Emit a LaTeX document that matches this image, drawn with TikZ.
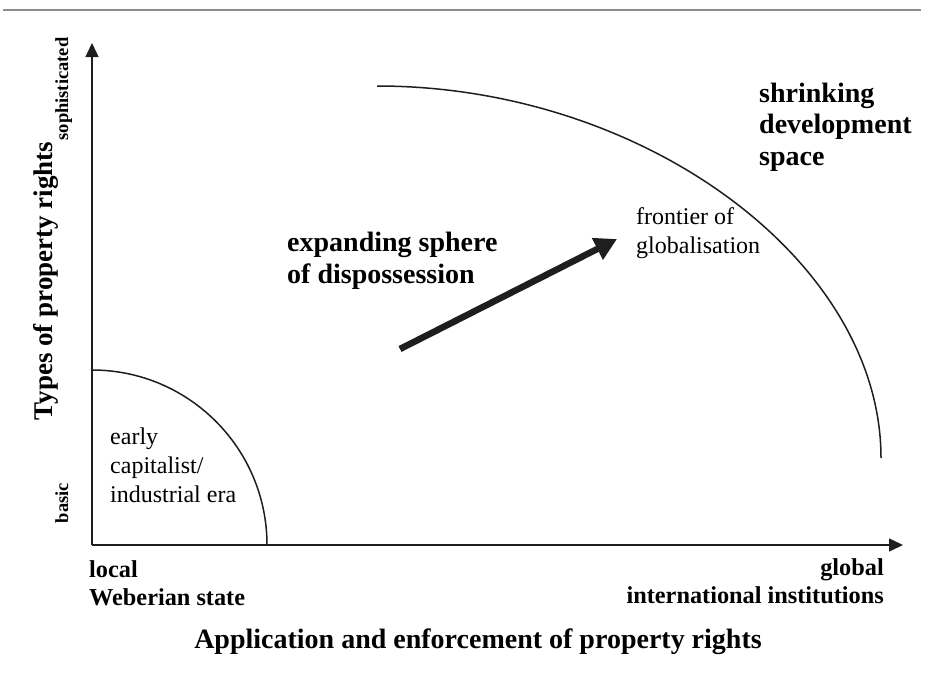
\documentclass[tikz,border=0pt]{standalone}
\usepackage{fontspec}
\setmainfont{Liberation Serif}
\usetikzlibrary{arrows.meta, positioning}

\definecolor{lineblack}{HTML}{1E1E1E}
\definecolor{rulegray}{HTML}{8C8C8C}

\tikzset{
  axisline/.style={line width=1.5pt, draw=lineblack, -{Triangle[length=14pt, width=13pt]}},
  boundary/.style={line width=1.5pt, draw=lineblack},
  bigbold/.style={font=\bfseries\fontsize{28}{31.5}\selectfont, align=left, inner sep=0pt},
  plaintext/.style={font=\fontsize{24}{29}\selectfont, align=left, inner sep=0pt},
  endlabel/.style={font=\bfseries\fontsize{24.3}{28}\selectfont, inner sep=0pt},
  axistitle/.style={font=\bfseries\fontsize{28}{32}\selectfont, inner sep=0pt},
  tickword/.style={font=\bfseries\fontsize{18.5}{22}\selectfont, inner sep=0pt, rotate=90, anchor=base}
}

\begin{document}
\begin{tikzpicture}[x=1pt, y=-1pt]
  \useasboundingbox (0,0) rectangle (936,683);

  % rule above the figure
  \draw[rulegray, line width=2pt] (3,10) -- (921,10);

  % axes
  \coordinate (origin) at (92,545);
  \coordinate (ytip) at (92,43);
  \coordinate (xtip) at (903,545);
  \draw[axisline] (origin) -- (ytip);
  \draw[axisline] (origin) -- (xtip);

  % inner and outer boundaries
  \draw[boundary] (92,370) arc[start angle=-90, end angle=0, radius=175];
  \coordinate (outerstart) at (377,86);
  \coordinate (outerend) at (881,458);
  \draw[boundary] (outerstart) .. controls (644,86) and (881,261) .. (outerend);

  % growth arrow
  \coordinate (dtail) at (400,349);
  \coordinate (dhead) at (617,239);
  \draw[line width=6.5pt, draw=lineblack, -{Triangle[length=22pt, width=23pt]}] (dtail) -- (dhead);

  % texts (base anchor sits on the last line)
  \node[bigbold, anchor=base west] (shrinkspace) at (759,165) {shrinking\\development\\space};
  \node[bigbold, anchor=base west] (expsphere) at (287,283) {expanding sphere\\of dispossession};
  \node[plaintext, anchor=base west] (frontier) at (636,253) {frontier of\\globalisation};
  \node[plaintext, anchor=base west] (earlyera) at (110,502) {early\\capitalist/\\industrial era};

  \node[endlabel, align=left, anchor=base west] (localstate) at (89,605) {local\\Weberian state};
  \node[endlabel, align=right, anchor=base east] (globalinst) at (884,603) {global\\international institutions};
  \node[axistitle, anchor=base] (xlabel) at (478,648) {Application and enforcement of property rights};

  \node[axistitle, font=\bfseries\fontsize{27}{30}\selectfont, rotate=90, anchor=base] (ylabel) at (52,281) {Types of property rights};
  \node[tickword] (ysoph) at (68,89) {sophisticated};
  \node[tickword] (ybasic) at (68,503) {basic};
\end{tikzpicture}
\end{document}
